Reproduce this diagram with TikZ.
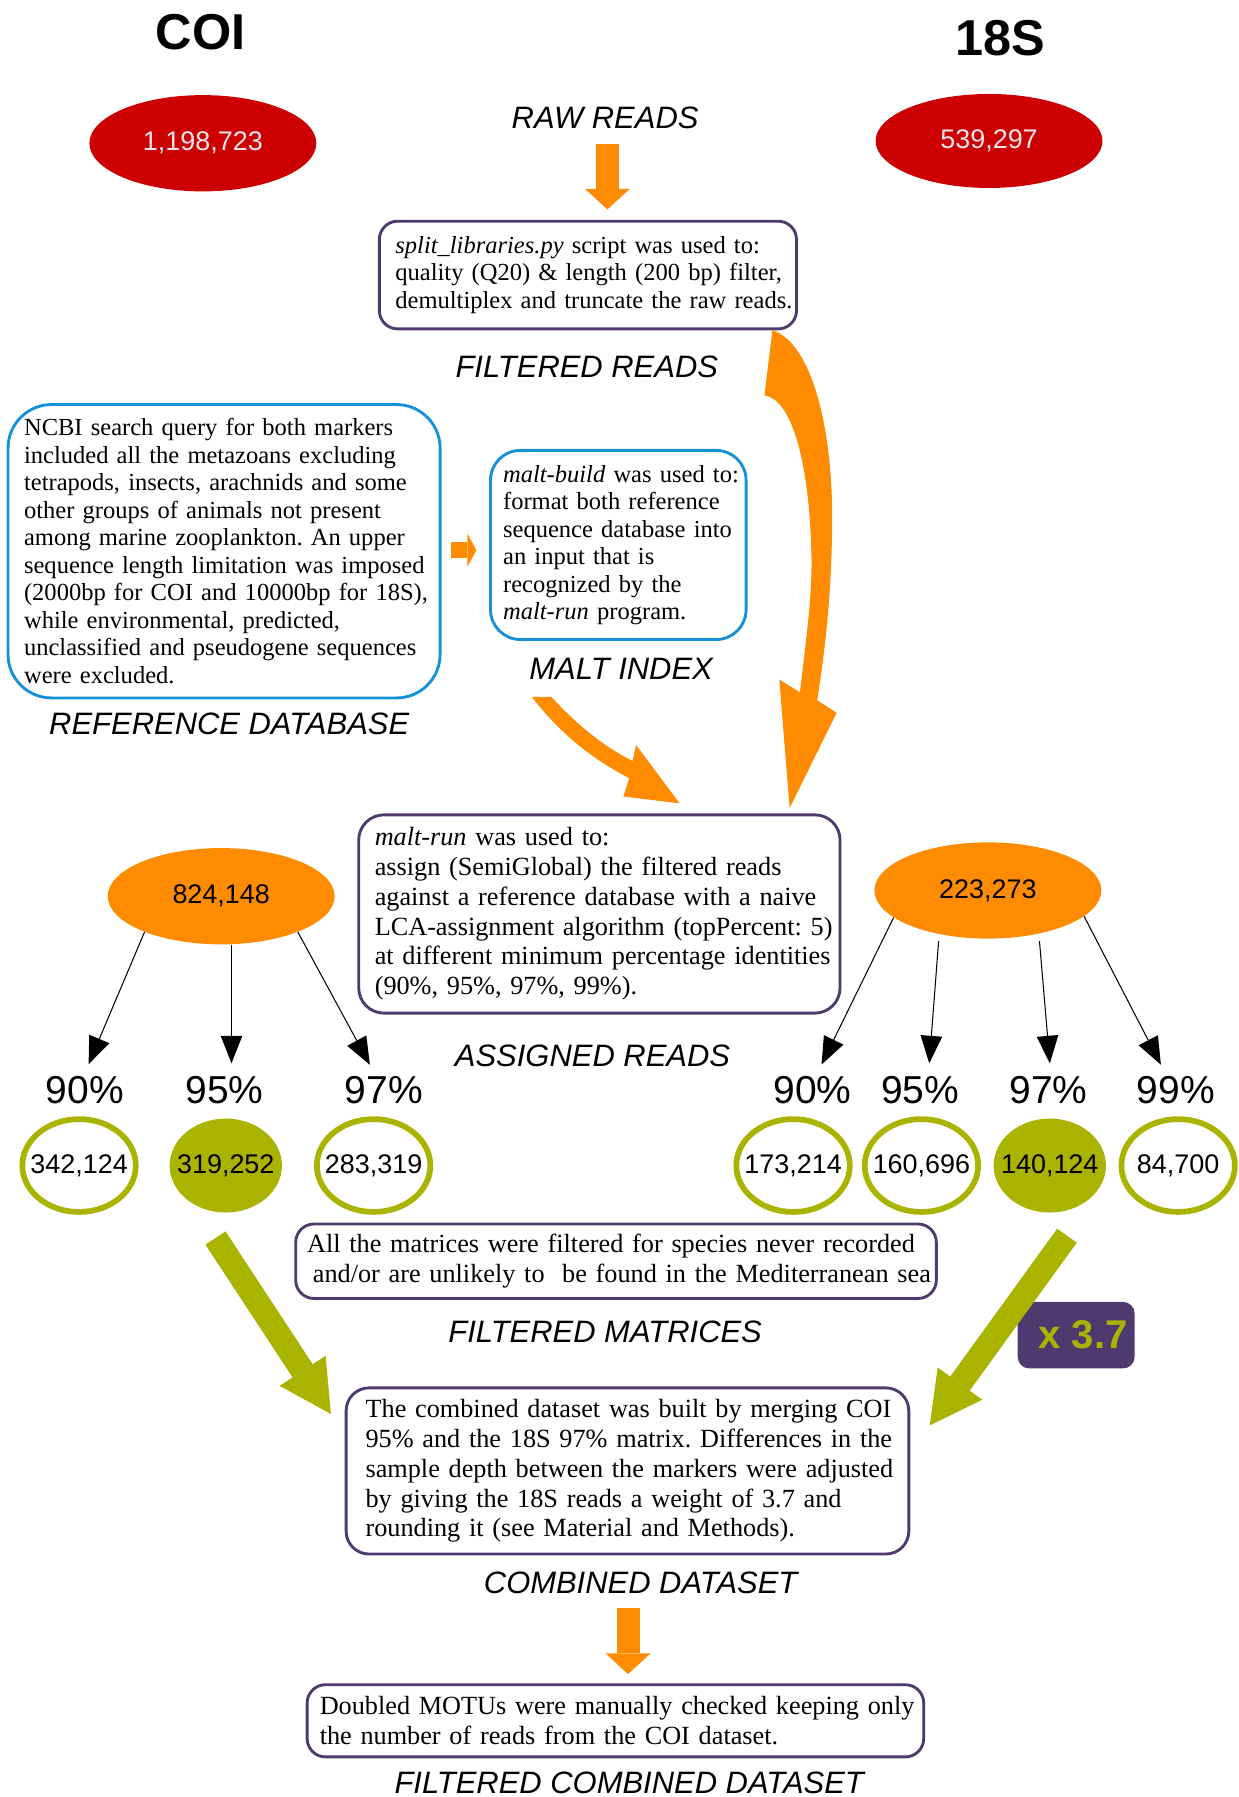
\documentclass[tikz,border=0pt]{standalone}
\usepackage{fontspec}
\setmainfont{Liberation Serif}
\setsansfont{Liberation Sans}
\usetikzlibrary{shapes.geometric,arrows.meta,calc}
\definecolor{pur}{RGB}{78,58,110}
\definecolor{blu}{RGB}{20,145,215}
\definecolor{org}{RGB}{255,140,0}
\definecolor{rd}{RGB}{204,0,0}
\definecolor{olv}{RGB}{170,180,0}
\definecolor{lt}{RGB}{240,228,240}
\frenchspacing
\begin{document}
\begin{tikzpicture}[x=1pt,y=-1pt,
  lbl/.style={font=\fontsize{27}{30}\selectfont\sffamily\itshape, inner sep=0},
  ttl/.style={font=\fontsize{44}{50}\selectfont\sffamily\bfseries, inner sep=0},
  pct/.style={font=\fontsize{34}{38}\selectfont\sffamily, inner sep=0},
  numf/.style={font=\fontsize{23.5}{26}\selectfont\sffamily},
  redell/.style={ellipse, fill=rd, minimum width=198pt, minimum height=84pt, inner sep=0, text=lt, numf},
  orell/.style={ellipse, fill=org, minimum width=198pt, minimum height=84pt, inner sep=0, text=black, numf},
  ring/.style={ellipse, draw=olv, line width=5pt, fill=white, minimum width=99pt, minimum height=81pt, inner xsep=-12pt, inner ysep=0pt, numf},
  fring/.style={ellipse, fill=olv, minimum width=98pt, minimum height=82pt, inner xsep=-12pt, inner ysep=0pt, numf},
  sbody/.style={font=\fontsize{21.4}{24}\selectfont},
  lbody/.style={font=\fontsize{22.9}{26}\selectfont},
  pbox/.style={draw=pur, line width=2.5pt, rounded corners=16pt, fill=white, align=left, inner ysep=0},
  bbox/.style={draw=blu, line width=2.5pt, fill=white, align=left, inner ysep=0},
  orarrow/.style={draw=org, line width=20pt, -{Triangle[width=39pt,length=18pt,line width=0pt]}},
  smarrow/.style={draw=org, line width=14pt, -{Triangle[width=29pt,length=8pt,line width=0pt]}},
  olarrow/.style={draw=olv, line width=21pt, -{Triangle[width=48pt,length=45pt,line width=0pt]}},
  blk/.style={draw=black, line width=0.9pt, -{Triangle[width=19pt,length=24pt,line width=0pt]}, shorten >=11pt}
]
\useasboundingbox (0,0) rectangle (1081,1568);

% titles
\node[ttl] (tcoi) at (175,28) {COI};
\node[ttl] (t18s) at (873,33) {18S};

% raw read counts
\node[redell] (rcoi) at (177,125) {1,198,723};
\node[redell, minimum height=82pt] (r18s) at (863,123) {539,297};

% stage labels
\node[lbl] (lraw) at (528,103) {RAW READS};
\node[lbl] (lfilt) at (512,320) {FILTERED READS};
\node[lbl] (lref) at (200,632) {REFERENCE DATABASE};
\node[lbl] (lmalt) at (542,584) {MALT INDEX};
\node[lbl] (lasg) at (517,921) {ASSIGNED READS};
\node[lbl] (lfmat) at (528,1162) {FILTERED MATRICES};
\node[lbl] (lcomb) at (559,1381) {COMBINED DATASET};
\node[lbl] (lfin) at (549,1556) {FILTERED COMBINED DATASET};

% boxes
\node[pbox, sbody, text width=336pt, inner xsep=14pt, minimum height=94pt] (split) at (513,240)
 {\mbox{\textit{split\_libraries.py} script was used to:}\\
  \mbox{quality (Q20) \& length (200 bp) filter,}\\
  \mbox{demultiplex and truncate the raw reads.}};

\node[bbox, rounded corners=38pt, sbody, text width=349pt, inner xsep=14pt, minimum height=256pt] (refdb) at (195.5,481)
 {\mbox{NCBI search query for both markers}\\
  \mbox{included all the metazoans excluding}\\
  \mbox{tetrapods, insects, arachnids and some}\\
  \mbox{other groups of animals not present}\\
  \mbox{among marine zooplankton. An upper}\\
  \mbox{sequence length limitation was imposed}\\
  \mbox{(2000bp for COI and 10000bp for 18S),}\\
  \mbox{while environmental, predicted,}\\
  \mbox{unclassified and pseudogene sequences}\\
  \mbox{were excluded.}};

\node[bbox, rounded corners=26pt, sbody, text width=201pt, inner xsep=11pt, minimum height=165pt] (mbuild) at (539.5,475.5)
 {\mbox{\textit{malt-build} was used to:}\\
  \mbox{format both reference}\\
  \mbox{sequence database into}\\
  \mbox{an input that is}\\
  \mbox{recognized by the}\\
  \mbox{\textit{malt-run} program.}};

\node[pbox, rounded corners=22pt, lbody, text width=392pt, inner xsep=14pt, minimum height=173pt] (mrun) at (523,797.5)
 {\mbox{\textit{malt-run} was used to:}\\
  \mbox{assign (SemiGlobal) the filtered reads}\\
  \mbox{against a reference database with a naive}\\
  \mbox{LCA-assignment algorithm (topPercent: 5)}\\
  \mbox{at different minimum percentage identities}\\
  \mbox{(90\%, 95\%, 97\%, 99\%).}};

\node[pbox, lbody, text width=539pt, inner xsep=10pt, minimum height=65pt] (fmat) at (537.5,1100.5)
 {\mbox{All the matrices were filtered for species never recorded}\\
  \mbox{\hspace*{5pt}and/or are unlikely to\ \ be found in the Mediterranean sea}};

\node[pbox, rounded corners=20pt, lbody, text width=457pt, inner xsep=17pt, minimum height=145pt] (comb) at (547.5,1283.5)
 {\mbox{The combined dataset was built by merging COI}\\
  \mbox{95\% and the 18S 97\% matrix. Differences in the}\\
  \mbox{sample depth between the markers were adjusted}\\
  \mbox{by giving the 18S reads a weight of 3.7 and}\\
  \mbox{rounding it (see Material and Methods).}};

\node[pbox, lbody, text width=516pt, inner xsep=11pt, minimum height=63pt] (fin) at (537,1501.5)
 {\mbox{Doubled MOTUs were manually checked keeping only}\\
  \mbox{the number of reads from the COI dataset.}};

% assigned reads
\node[orell] (acoi) at (193,782) {824,148};
\node[orell] (a18s) at (862,777) {223,273};

% percent labels
\node[pct] (p90c) at (74,951) {90\%};
\node[pct] (p95c) at (196,951) {95\%};
\node[pct] (p97c) at (335,951) {97\%};
\node[pct] (p90s) at (709,951) {90\%};
\node[pct] (p95s) at (803,951) {95\%};
\node[pct] (p97s) at (915,951) {97\%};
\node[pct] (p99s) at (1026,951) {99\%};

% counts per identity
\node[ring] (c90) at (69,1017) {342,124};
\node[fring] (c95) at (197,1017) {319,252};
\node[ring] (c97) at (326,1017) {283,319};
\node[ring] (s90) at (692,1017) {173,214};
\node[ring] (s95) at (804,1017) {160,696};
\node[fring] (s97) at (916,1017) {140,124};
\node[ring] (s99) at (1028,1017) {84,700};

% weight box
\node[fill=pur, rounded corners=10pt, minimum width=102pt, minimum height=58pt, inner sep=0,
      text=olv, font=\fontsize{35}{40}\selectfont\sffamily\bfseries] (x37) at (939,1165) {\hspace*{12pt}x 3.7};

% straight block arrows
\draw[orarrow] ($(lraw.south)+(2,13)$) -- ($(split.north)+(17,-9)$);
\draw[orarrow] ($(lcomb.south)+(-11,12)$) -- ($(fin.north)+(11,-8)$);
\draw[smarrow] ($(refdb.east)+(8,-1)$) -- ($(mbuild.west)+(-11,4.5)$);
\draw[olarrow] ($(c95.south)+(-9,22)$) -- ($(comb.north west)+(-12,24)$);
\draw[olarrow] ($(s97.south)+(15,20)$) -- ($(comb.north east)+(17,34)$);

% curved block arrows
\fill[org] (674,288) .. controls (710,300) and (728,380) .. (726,465)
  .. controls (725,530) and (718,580) .. (713,611) -- (730,622) -- (689,705) -- (680,593) -- (698,604)
  .. controls (703,560) and (709,520) .. (708,483)
  .. controls (706,400) and (690,348) .. (667,345) -- cycle;
\fill[org] (464,608) -- (481,608) .. controls (505,634) and (528,652) .. (552,664)
  -- (555,650) -- (593,701) -- (544,695) -- (549,679)
  .. controls (520,664) and (490,642) .. (464,608) -- cycle;

% thin arrows
\draw[blk] (acoi.205) -- ([xshift=-1pt]p90c.north);
\draw[blk] ([xshift=9pt]acoi.south) -- ([xshift=6pt]p95c.north);
\draw[blk] (acoi.335) -- ([xshift=-7pt]p97c.north);
\draw[blk] (a18s.196) -- ([xshift=3pt]p90s.north);
\draw[blk] ([xshift=-43pt,yshift=-2pt]a18s.south) -- ([xshift=7pt]p95s.north);
\draw[blk] ([xshift=45pt,yshift=-2pt]a18s.south) -- ([xshift=2pt]p97s.north);
\draw[blk] (a18s.345) -- ([xshift=-8pt]p99s.north);
\end{tikzpicture}
\end{document}
